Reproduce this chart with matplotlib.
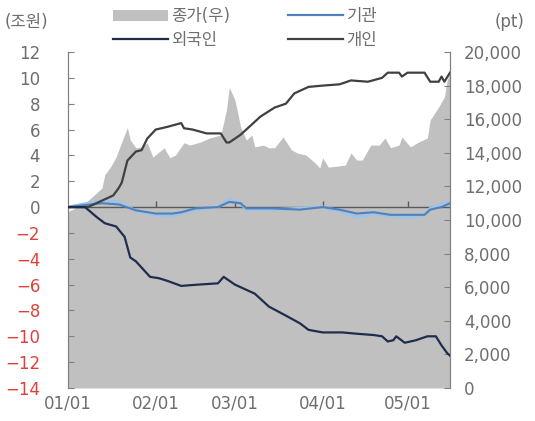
import numpy as np
import pandas as pd
import matplotlib
matplotlib.use("Agg")
import matplotlib.pyplot as plt
import matplotlib.dates as mdates
from matplotlib.patches import Patch
from matplotlib.lines import Line2D
from matplotlib.ticker import FuncFormatter

plt.rcParams['font.family'] = ['DejaVu Sans', 'Noto Sans CJK KR']

YEAR = '2021-'

# 종가(우), right axis (pt)
close_dates = ['01-01', '01-07', '01-11', '01-13', '01-14', '01-16', '01-18', '01-20',
               '01-22', '01-23', '01-25', '01-27', '01-29', '01-31', '02-04', '02-06',
               '02-08', '02-11', '02-13', '02-17', '02-20', '02-24', '02-26', '02-27',
               '03-01', '03-03', '03-05', '03-07', '03-08', '03-11', '03-13', '03-15',
               '03-18', '03-21', '03-23', '03-26', '03-29', '03-31', '04-01', '04-03',
               '04-06', '04-09', '04-11', '04-13', '04-15', '04-18', '04-21', '04-23',
               '04-25', '04-28', '04-29', '05-02', '05-05', '05-08', '05-09', '05-12',
               '05-14', '05-15', '05-16']
close = [10500, 11000, 11600, 11900, 12700, 13150, 13750, 14650,
         15500, 14760, 14300, 14350, 14600, 13750, 14300, 13700,
         13870, 14600, 14460, 14650, 14880, 15060, 16550, 17900,
         17140, 15540, 14760, 15060, 14350, 14460, 14300, 14300,
         14940, 14170, 13990, 13870, 13450, 13100, 13700, 13150,
         13200, 13270, 13990, 13570, 13570, 14460, 14460, 14880,
         14300, 14460, 14940, 14350, 14650, 14880, 15950, 16730,
         17320, 18330, 18750]

# 개인 (조원)
indiv_dates = ['01-01', '01-08', '01-13', '01-17', '01-19', '01-20', '01-22', '01-25',
               '01-27', '01-29', '02-01', '02-05', '02-10', '02-11', '02-14', '02-19',
               '02-24', '02-26', '02-27', '03-03', '03-06', '03-10', '03-15', '03-19',
               '03-22', '03-27', '04-01', '04-07', '04-11', '04-17', '04-22', '04-24',
               '04-28', '04-29', '05-01', '05-07', '05-09', '05-12', '05-13', '05-14',
               '05-16']
indiv = [0, 0, 0.5, 0.9, 1.5, 1.9, 3.6, 4.3,
         4.4, 5.3, 6.0, 6.2, 6.5, 6.1, 6.0, 5.7,
         5.7, 5.0, 5.0, 5.6, 6.2, 7.0, 7.7, 8.0,
         8.8, 9.3, 9.4, 9.5, 9.8, 9.7, 10.0, 10.4,
         10.4, 10.1, 10.4, 10.4, 9.7, 9.7, 10.1, 9.7,
         10.4]

# 외국인 (조원)
foreign_dates = ['01-01', '01-07', '01-11', '01-14', '01-18', '01-21', '01-23', '01-25',
                 '01-30', '02-02', '02-05', '02-10', '02-16', '02-23', '02-25', '03-01',
                 '03-08', '03-13', '03-19', '03-24', '03-27', '04-01', '04-08', '04-13',
                 '04-19', '04-22', '04-24', '04-26', '04-27', '04-30', '05-04', '05-08',
                 '05-11', '05-13', '05-15', '05-16']
foreign = [0, 0, -0.75, -1.25, -1.5, -2.3, -3.9, -4.2,
           -5.4, -5.5, -5.7, -6.1, -6.0, -5.9, -5.4, -6.0,
           -6.7, -7.7, -8.4, -9.0, -9.5, -9.7, -9.7, -9.8,
           -9.9, -10.0, -10.4, -10.3, -10.0, -10.5, -10.3, -10.0,
           -10.0, -10.7, -11.3, -11.5]

# 기관 (조원) and the light blue companion line
inst_dates = ['01-01', '01-13', '01-19', '01-25', '02-01', '02-07', '02-10', '02-15',
              '02-23', '02-27', '03-03', '03-05', '03-14', '03-24', '04-01', '04-07',
              '04-13', '04-19', '04-25', '05-01', '05-07', '05-09', '05-13', '05-16']
inst = [0, 0.3, 0.2, -0.25, -0.5, -0.5, -0.4, -0.1,
        0, 0.4, 0.3, -0.1, -0.1, -0.2, 0, -0.2,
        -0.5, -0.4, -0.6, -0.6, -0.6, -0.2, 0, 0.3]
inst_light = [0, 0.5, 0.4, -0.3, -0.6, -0.7, -0.5, -0.2,
              0, 0.6, 0.3, -0.2, -0.2, -0.1, 0, -0.3,
              -0.8, -0.5, -0.7, -0.8, -0.6, -0.1, 0.2, 0.4]

month_ticks = ['01-01', '02-01', '03-01', '04-01', '05-01']


def to_dt(lst):
    return pd.to_datetime([YEAR + d for d in lst])


GRAY_TXT = '#6e6e6e'
RED_TXT = '#e0403a'

fig = plt.figure(figsize=(5.35, 4.21), dpi=100)
ax = fig.add_axes([68 / 535, 1 - 388 / 421, (450 - 68) / 535, (388 - 52) / 421])
axr = ax.twinx()
ax.set_zorder(axr.get_zorder() + 1)
ax.patch.set_visible(False)

# gray area (right axis)
axr.fill_between(to_dt(close_dates), close, 0, color='#c0c0c0', lw=0)
axr.set_ylim(0, 20000)
axr.set_yticks(np.arange(0, 20001, 2000))
axr.yaxis.set_major_formatter(FuncFormatter(lambda v, p: f'{int(v):,}'))

# zero line
ax.axhline(0, color='#5a5a5a', lw=1.0, zorder=1)

# flow lines (left axis)
ax.plot(to_dt(inst_dates), inst_light, color='#9dc3e6', lw=2.2, zorder=2)
ax.plot(to_dt(inst_dates), inst, color='#4f81bd', lw=1.5, zorder=3)
ax.plot(to_dt(indiv_dates), indiv, color='#404040', lw=1.6, zorder=4)
ax.plot(to_dt(foreign_dates), foreign, color='#1f2d4d', lw=1.6, zorder=4)

ax.set_ylim(-14, 12)
ax.set_yticks(np.arange(-14, 13, 2))
ax.set_xlim(to_dt(['01-01'])[0], to_dt(['05-16'])[0])
ax.set_xticks(to_dt(month_ticks))
ax.xaxis.set_major_formatter(mdates.DateFormatter('%m/%d'))
ax.tick_params(axis='x', length=0, pad=5, labelsize=12, labelcolor=GRAY_TXT)
ax.tick_params(axis='y', direction='in', length=4, color='#808080',
               pad=20, labelsize=12, labelcolor=GRAY_TXT)
axr.tick_params(axis='y', direction='in', length=4, color='#808080',
                pad=10, labelsize=12, labelcolor=GRAY_TXT)
for lbl, v in zip(ax.get_yticklabels(), np.arange(-14, 13, 2)):
    if v < 0:
        lbl.set_color(RED_TXT)

for a in (ax, axr):
    a.spines['top'].set_visible(False)
    a.spines['bottom'].set_visible(False)
    a.spines['left'].set_color('#808080')
    a.spines['right'].set_color('#808080')

# month ticks sitting on the zero line
zero_ax = ax.secondary_xaxis(14 / 26)
zero_ax.set_xticks(to_dt(month_ticks[1:]))
zero_ax.tick_params(axis='x', direction='out', length=4, width=1, color='#5a5a5a',
                    labelbottom=False, labeltop=False)
for s in zero_ax.spines.values():
    s.set_visible(False)

fig.text(5 / 535, 1 - 22 / 421, '(조원)', fontsize=12, color=GRAY_TXT, va='center')
fig.text(525 / 535, 1 - 22 / 421, '(pt)', fontsize=12, color=GRAY_TXT, va='center', ha='right')

handles = [Patch(facecolor='#c0c0c0', edgecolor='none'),
           Line2D([], [], color='#1f2d4d', lw=1.6),
           Line2D([], [], color='#4f81bd', lw=1.6),
           Line2D([], [], color='#404040', lw=1.6)]
labels = ['종가(우)', '외국인', '기관', '개인']
fig.legend(handles, labels, ncol=2, frameon=False, loc='center',
           bbox_to_anchor=(245 / 535, 1 - 28 / 421), fontsize=12,
           handlelength=3.3, handleheight=0.6, columnspacing=3.5, labelspacing=0.35,
           handletextpad=0.2, labelcolor=GRAY_TXT)

fig.savefig('out.png', dpi=100)
